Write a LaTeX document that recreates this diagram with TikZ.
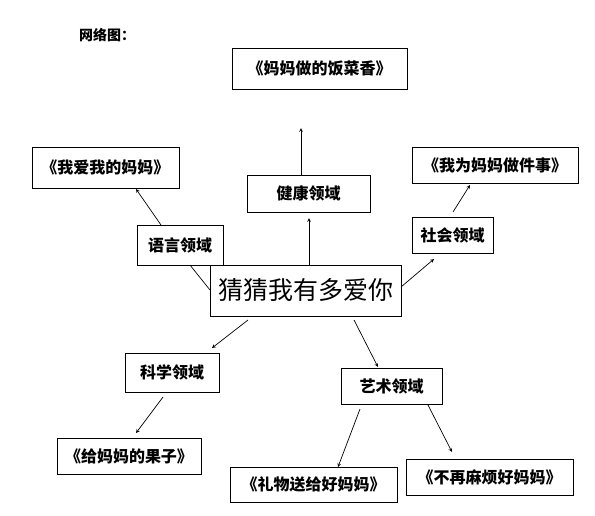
\documentclass[tikz,border=0pt]{standalone}
\usepackage{fontspec}
\newfontfamily\cjk{Noto Sans CJK SC}
\usetikzlibrary{positioning}
\begin{document}
\begin{tikzpicture}[>=stealth,x=1pt,y=-1pt,
		hop/.style={draw,line width=0.8pt,fill=white,inner sep=0pt,font=\cjk\bfseries\fontsize{16}{16}\selectfont},
		tia/.style={->,line width=0.7pt}]
	\useasboundingbox (0,0) rectangle (595,515);
	% tieu de
	\node[font=\cjk\bfseries\fontsize{14}{14}\selectfont] (tieude) at (107,35) {网络图：};
	% cac hop
	\node[hop,minimum width=175,minimum height=41] (fan) at (319.5,68.5) {《妈妈做的饭菜香》};
	\node[hop,minimum width=147,minimum height=41] (aiwo) at (105.5,167.5) {《我爱我的妈妈》};
	\node[hop,minimum width=123,minimum height=37] (jiankang) at (308.5,193.5) {健康领域};
	\node[hop,minimum width=166,minimum height=36] (zuoshi) at (495,165) {《我为妈妈做件事》};
	\node[hop,minimum width=81,minimum height=36] (shehui) at (452.5,235) {社会领域};
	\node[hop,minimum width=86,minimum height=40] (yuyan) at (180,245) {语言领域};
	\node[hop,minimum width=191,minimum height=51,font=\cjk\fontsize{25}{25}\selectfont] (tam) at (305.5,290.5) {猜猜我有多爱你};
	\node[hop,minimum width=94,minimum height=39] (kexue) at (172,372.5) {科学领域};
	\node[hop,minimum width=144,minimum height=36] (guozi) at (129,456) {《给妈妈的果子》};
	\node[hop,minimum width=101,minimum height=36] (yishu) at (391.5,386) {艺术领域};
	\node[hop,minimum width=167,minimum height=35] (liwu) at (313.5,484.5) {《礼物送给好妈妈》};
	\node[hop,minimum width=167,minimum height=36] (mafan) at (489.5,477) {《不再麻烦好妈妈》};
	% dau va cuoi cac mui ten
	\coordinate (jk1) at (301,175);  \coordinate (jk2) at (301,128);
	\coordinate (ta1) at (309,265);  \coordinate (ta2) at (309,218);
	\coordinate (yy1) at (161,225);  \coordinate (yy2) at (136,189);
	\coordinate (yy3) at (190,265);  \coordinate (ta3) at (210,290);
	\coordinate (ta4) at (401,287);  \coordinate (sh1) at (434,259);
	\coordinate (sh2) at (453,212);  \coordinate (sh3) at (470,185);
	\coordinate (ta5) at (248,320);  \coordinate (kx1) at (212,348);
	\coordinate (kx2) at (163,397);  \coordinate (kx3) at (136,433);
	\coordinate (ta6) at (354,320);  \coordinate (ys1) at (378,367);
	\coordinate (ys2) at (360,409);  \coordinate (ys3) at (338,467);
	\coordinate (ys4) at (428,405);  \coordinate (ys5) at (452,452);
	\draw[tia] (jk1) -- (jk2);
	\draw[tia] (ta1) -- (ta2);
	\draw[tia] (yy1) -- (yy2);
	\draw[line width=0.7pt] (yy3) -- (ta3);
	\draw[tia] (ta4) -- (sh1);
	\draw[tia] (sh2) -- (sh3);
	\draw[tia] (ta5) -- (kx1);
	\draw[tia] (kx2) -- (kx3);
	\draw[tia] (ta6) -- (ys1);
	\draw[tia] (ys2) -- (ys3);
	\draw[tia] (ys4) -- (ys5);
\end{tikzpicture}
\end{document}
